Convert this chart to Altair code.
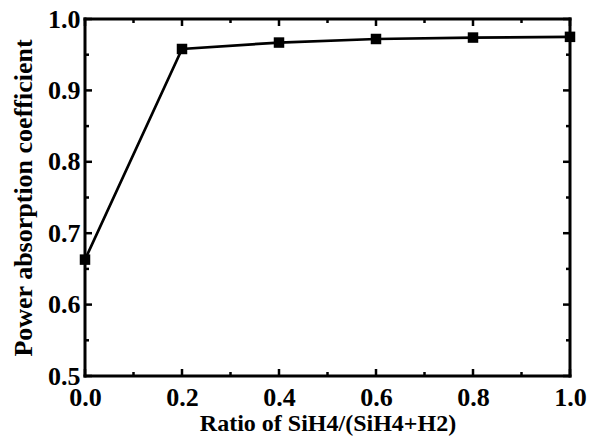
import altair as alt
import pandas as pd

ratio = [0.0, 0.2, 0.4, 0.6, 0.8, 1.0]
coef = [0.663, 0.958, 0.967, 0.972, 0.974, 0.975]

x_major = [0.0, 0.2, 0.4, 0.6, 0.8, 1.0]
x_minor = [0.1, 0.3, 0.5, 0.7, 0.9]
y_major = [0.5, 0.6, 0.7, 0.8, 0.9, 1.0]
y_minor = [0.55, 0.65, 0.75, 0.85, 0.95]

W, H = 485, 357
MAJ, MIN = 7, 4

df = pd.DataFrame({"ratio": ratio, "coef": coef})
xt = pd.DataFrame({"ratio": x_major + x_minor, "len": [MAJ] * len(x_major) + [MIN] * len(x_minor)})
yt = pd.DataFrame({"coef": y_major + y_minor, "len": [MAJ] * len(y_major) + [MIN] * len(y_minor)})

FONT = "Liberation Serif"
xscale = alt.Scale(domain=[0, 1], nice=False, zero=False)
yscale = alt.Scale(domain=[0.5, 1.0], nice=False, zero=False)

xaxis = alt.Axis(values=x_major, format=".1f", ticks=False, grid=False, domain=False,
                 labelFont=FONT, labelFontWeight="bold", labelFontSize=26, labelColor="black",
                 labelPadding=8, title="Ratio of SiH4/(SiH4+H2)", titleFont=FONT,
                 titleFontWeight="bold", titleFontSize=24, titleColor="black", titlePadding=1,
                 labelFlush=False)
yaxis = alt.Axis(values=y_major, format=".1f", ticks=False, grid=False, domain=False,
                 labelFont=FONT, labelFontWeight="bold", labelFontSize=26, labelColor="black",
                 labelPadding=5, title="Power absorption coefficient", titleFont=FONT,
                 titleFontWeight="bold", titleFontSize=26, titleColor="black", titlePadding=11,
                 labelFlush=False)

X = alt.X("ratio:Q", scale=xscale, axis=xaxis)
Y = alt.Y("coef:Q", scale=yscale, axis=yaxis)

base = alt.Chart(df).encode(x=X, y=Y)
line = base.mark_line(color="black", strokeWidth=2.7, clip=False)
pts = base.mark_square(color="black", size=110, opacity=1, clip=False)

tick_style = dict(color="black", strokeWidth=2.5)
bottom = alt.Chart(xt).transform_calculate(y0=f"{H}", y1=f"{H} - datum.len").mark_rule(**tick_style).encode(
    x=X, y=alt.Y("y0:Q", scale=None, axis=None), y2="y1:Q")
top = alt.Chart(xt).transform_calculate(y0="0", y1="datum.len").mark_rule(**tick_style).encode(
    x=X, y=alt.Y("y0:Q", scale=None, axis=None), y2="y1:Q")
left = alt.Chart(yt).transform_calculate(x0="0", x1="datum.len").mark_rule(**tick_style).encode(
    y=Y, x=alt.X("x0:Q", scale=None, axis=None), x2="x1:Q")
right = alt.Chart(yt).transform_calculate(x0=f"{W}", x1=f"{W} - datum.len").mark_rule(**tick_style).encode(
    y=Y, x=alt.X("x0:Q", scale=None, axis=None), x2="x1:Q")

frame_df = pd.DataFrame({"k": [0]})
fs = dict(color="black", strokeWidth=3, strokeCap="square")
f_top = alt.Chart(frame_df).mark_rule(**fs).encode(x=alt.value(0), x2=alt.value(W), y=alt.value(0))
f_bot = alt.Chart(frame_df).mark_rule(**fs).encode(x=alt.value(0), x2=alt.value(W), y=alt.value(H))
f_left = alt.Chart(frame_df).mark_rule(**fs).encode(y=alt.value(0), y2=alt.value(H), x=alt.value(0))
f_right = alt.Chart(frame_df).mark_rule(**fs).encode(y=alt.value(0), y2=alt.value(H), x=alt.value(W))

chart = alt.layer(line, pts, bottom, top, left, right, f_top, f_bot, f_left, f_right).properties(
    width=W, height=H,
    autosize=alt.AutoSizeParams(type="none"),
    padding={"left": 77, "top": 11, "right": 20, "bottom": 62},
).configure_view(stroke=None).configure(background="white")

chart.save("out.html", embed_options={"renderer": "svg", "actions": False})
